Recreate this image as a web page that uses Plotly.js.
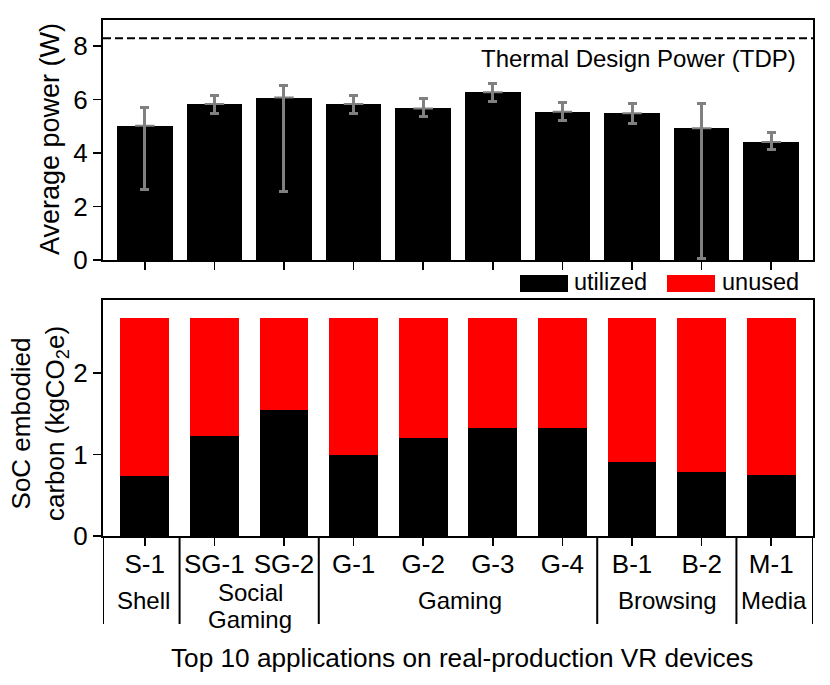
<!DOCTYPE html>
<html>
<head>
<meta charset="utf-8">
<script src="https://cdn.plot.ly/plotly-3.0.1.min.js"></script>
<style>html,body{margin:0;padding:0;background:#fff}</style>
</head>
<body>
<div id="chart" style="width:830px;height:685px"></div>
<script>
const apps = ['S-1', 'SG-1', 'SG-2', 'G-1', 'G-2', 'G-3', 'G-4', 'B-1', 'B-2', 'M-1'];
const avgPower = [5.02, 5.84, 6.08, 5.84, 5.67, 6.28, 5.55, 5.49, 4.93, 4.42];
const powerHigh = [5.72, 6.15, 6.54, 6.15, 6.05, 6.62, 5.89, 5.84, 5.84, 4.76];
const powerLow = [2.65, 5.48, 2.58, 5.48, 5.37, 5.92, 5.22, 5.12, 0.06, 4.12];
const tdpPower = 8.3;
const utilized = [0.74, 1.23, 1.55, 0.99, 1.2, 1.33, 1.32, 0.91, 0.79, 0.75];
const unused = [1.93, 1.44, 1.12, 1.68, 1.47, 1.34, 1.35, 1.76, 1.88, 1.92];
const groupNames = ['Shell', 'Social', 'Gaming', 'Gaming', 'Browsing', 'Media'];
const groupEdges = [0.5, 2.5, 6.5, 8.5];

const W = 830, H = 685;
const px = x => x / W;
const py = y => 1 - y / H;
const font = 'Liberation Sans, Arial, sans-serif';
const grey = '#808080';

const traces = [
    {
        x: apps, y: avgPower, type: 'bar', width: 0.8, xaxis: 'x', yaxis: 'y',
        marker: { color: '#000' }, showlegend: false,
        error_y: {
            type: 'data', symmetric: false,
            array: powerHigh.map((v, i) => +(v - avgPower[i]).toFixed(2)),
            arrayminus: powerLow.map((v, i) => +(avgPower[i] - v).toFixed(2)),
            color: grey, thickness: 3, width: 4.5
        }
    },
    // little grey tick on the bar top, at the mean
    {
        x: apps, y: avgPower, type: 'scatter', mode: 'markers', xaxis: 'x', yaxis: 'y',
        marker: { symbol: 'line-ew', size: 14, line: { color: grey, width: 2 } }, showlegend: false
    },
    { x: apps, y: utilized, type: 'bar', width: 0.7, xaxis: 'x2', yaxis: 'y2', marker: { color: '#000' }, name: 'utilized', showlegend: false },
    { x: apps, y: unused, type: 'bar', width: 0.7, xaxis: 'x2', yaxis: 'y2', marker: { color: '#f00' }, name: 'unused', showlegend: false }
];

const axisBase = {
    showgrid: false, zeroline: false, showline: true, mirror: true,
    linecolor: '#000', linewidth: 2, ticks: 'outside', ticklen: 8, tickwidth: 1.5, tickcolor: '#000',
    tickfont: { family: font, size: 26, color: '#000' }
};

const shapes = [
    // TDP line
    { type: 'line', xref: 'paper', yref: 'y', x0: px(103), x1: px(813), y0: tdpPower, y1: tdpPower, line: { color: '#000', width: 2, dash: '8px,4px' } },
    // legend swatches
    { type: 'rect', xref: 'paper', yref: 'paper', x0: px(520), x1: px(568), y0: py(292), y1: py(275), fillcolor: '#000', line: { width: 0 } },
    { type: 'rect', xref: 'paper', yref: 'paper', x0: px(667), x1: px(715), y0: py(292), y1: py(275), fillcolor: '#f00', line: { width: 0 } }
];
// group separators under the lower panel
[-0.6].concat(groupEdges, [9.6]).forEach(e => {
    shapes.push({ type: 'line', xref: 'x2', yref: 'paper', x0: e, x1: e, y0: py(536), y1: py(624), line: { color: '#000', width: 2 } });
});

const textNote = (text, x, y, size, xanchor) => ({
    text: text, x: px(x), y: py(y), xref: 'paper', yref: 'paper', showarrow: false,
    xanchor: xanchor || 'center', yanchor: 'middle', font: { family: font, size: size, color: '#000' }
});
const groupX = [143, 250, 250, 460, 667, 774];
const groupY = [600, 592, 619, 600, 600, 600];

const annotations = [
    textNote('Thermal Design Power (TDP)', 797.5, 59, 24, 'right'),
    textNote('utilized', 571.5, 282, 23.5, 'left'),
    textNote('unused', 720, 282, 23.5, 'left'),
    textNote('Top 10 applications on real-production VR devices', 461.5, 658, 26.2),
    textNote('Average power (W)', 50, 139, 27)
].concat(groupNames.map((g, i) => textNote(g, groupX[i], groupY[i], 24)));
annotations[4].textangle = -90;

const sy = textNote('SoC embodied<br>carbon (kgCO<sub>2</sub>e)', 39, 424, 26);
sy.textangle = -90;
annotations.push(sy);

const layout = {
    width: W, height: H, autosize: false, showlegend: false,
    margin: { l: 0, r: 0, t: 0, b: 0 },
    paper_bgcolor: '#fff', plot_bgcolor: '#fff',
    barmode: 'stack',
    xaxis: { ...axisBase, domain: [px(103), px(813)], anchor: 'y', type: 'category', categoryorder: 'array', categoryarray: apps, range: [-0.6, 9.6], showticklabels: false },
    yaxis: { ...axisBase, domain: [py(260), py(19.5)], anchor: 'x', range: [0, 9], tickvals: [0, 2, 4, 6, 8] },
    xaxis2: { ...axisBase, domain: [px(103), px(813)], anchor: 'y2', type: 'category', categoryorder: 'array', categoryarray: apps, range: [-0.6, 9.6], ticklabelstandoff: -4 },
    yaxis2: { ...axisBase, domain: [py(536), py(299.5)], anchor: 'x2', range: [0, 2.9], tickvals: [0, 1, 2] },
    shapes: shapes,
    annotations: annotations
};

Plotly.newPlot('chart', traces, layout, { displayModeBar: false, staticPlot: true });
</script>
</body>
</html>
